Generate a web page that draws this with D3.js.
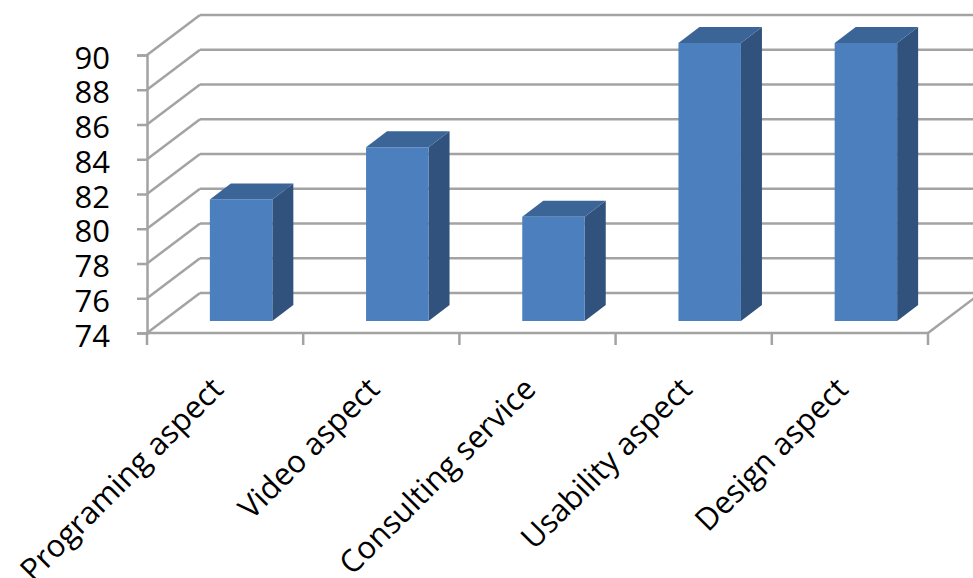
<!DOCTYPE html>
<html>
<head>
<meta charset="utf-8">
<script src="https://cdn.jsdelivr.net/npm/d3@7"></script>
<style>
  body { margin: 0; background: #fff; }
  text { font-family: "Open Sans", "Noto Sans", sans-serif; fill: #000; }
</style>
</head>
<body>
<div id="chart"></div>
<script>
// data
const categories = ["Programing aspect", "Video aspect", "Consulting service", "Usability aspect", "Design aspect"];
const values = [81, 84, 80, 90, 90];
const yTicks = [74, 76, 78, 80, 82, 84, 86, 88, 90];

const width = 973;
const height = 578;

// 3d offsets: wall depth and bar placement
const wallDx = 53, wallDy = -40;
const barOffX = 16, barOffY = -12;
const barDx = 21, barDy = -16;

const svg = d3.select("#chart")
    .append("svg")
    .attr("width", width)
    .attr("height", height);

const x = d3.scaleBand()
    .domain(categories)
    .range([147, 928])
    .paddingInner(0.6)
    .paddingOuter(0.3);

const y = d3.scaleLinear()
    .domain([74, 90])
    .range([333, 55]);

const gridColor = "#a3a3a3";

// back wall and left wall grid
const grid = svg.append("g")
    .attr("stroke", gridColor)
    .attr("stroke-width", 2.5)
    .attr("fill", "none");

grid.selectAll(".back")
    .data(yTicks)
    .join("line")
    .attr("x1", 147 + wallDx)
    .attr("x2", width + 20)
    .attr("y1", d => y(d) + wallDy)
    .attr("y2", d => y(d) + wallDy);

grid.selectAll(".side")
    .data(yTicks)
    .join("line")
    .attr("x1", 147)
    .attr("x2", 147 + wallDx)
    .attr("y1", d => y(d))
    .attr("y2", d => y(d) + wallDy);

// floor right edge
grid.append("line")
    .attr("x1", 928).attr("y1", y(74))
    .attr("x2", 928 + wallDx).attr("y2", y(74) + wallDy);

// front floor line + category ticks
grid.append("line")
    .attr("x1", 147).attr("y1", y(74))
    .attr("x2", 928).attr("y2", y(74));

const bounds = d3.range(categories.length + 1).map(i => 147 + i * x.step());
grid.selectAll(".ctick")
    .data(bounds)
    .join("line")
    .attr("x1", d => d).attr("x2", d => d)
    .attr("y1", y(74)).attr("y2", y(74) + 12);

// y axis
const yAxis = svg.append("g")
    .attr("transform", "translate(147,0)")
    .call(d3.axisLeft(y).tickValues(yTicks).tickSize(10).tickPadding(8));
yAxis.select(".domain").attr("stroke", gridColor).attr("stroke-width", 2.5);
yAxis.selectAll(".tick line").attr("stroke", gridColor).attr("stroke-width", 2.5);
yAxis.selectAll(".tick text")
    .attr("font-size", 31)
    .attr("font-family", "Open Sans")
    .attr("x", -37)
    .attr("dy", "0.42em");

// bars
const bars = svg.append("g");
const base = y(74) + barOffY;

bars.selectAll(".side")
    .data(values)
    .join("polygon")
    .attr("fill", "#30527c")
    .attr("points", (d, i) => {
        const x1 = x(categories[i]) + barOffX + x.bandwidth();
        const top = y(d) + barOffY;
        return [[x1, base], [x1, top], [x1 + barDx, top + barDy], [x1 + barDx, base + barDy]].join(" ");
    });

bars.selectAll(".top")
    .data(values)
    .join("polygon")
    .attr("fill", "#3b6597")
    .attr("points", (d, i) => {
        const x0 = x(categories[i]) + barOffX;
        const x1 = x0 + x.bandwidth();
        const top = y(d) + barOffY;
        return [[x0, top], [x1, top], [x1 + barDx, top + barDy], [x0 + barDx, top + barDy]].join(" ");
    });

bars.selectAll(".front")
    .data(values)
    .join("rect")
    .attr("fill", "#4b7fbd")
    .attr("x", (d, i) => x(categories[i]) + barOffX)
    .attr("y", d => y(d) + barOffY)
    .attr("width", x.bandwidth())
    .attr("height", d => base - (y(d) + barOffY));

// category labels
svg.append("g")
    .selectAll("text")
    .data(categories)
    .join("text")
    .attr("text-anchor", "end")
    .attr("font-size", 31)
    .attr("transform", d => `translate(${x(d) + x.bandwidth() / 2},${y(74) + 58}) rotate(-45)`)
    .text(d => d);
</script>
</body>
</html>
